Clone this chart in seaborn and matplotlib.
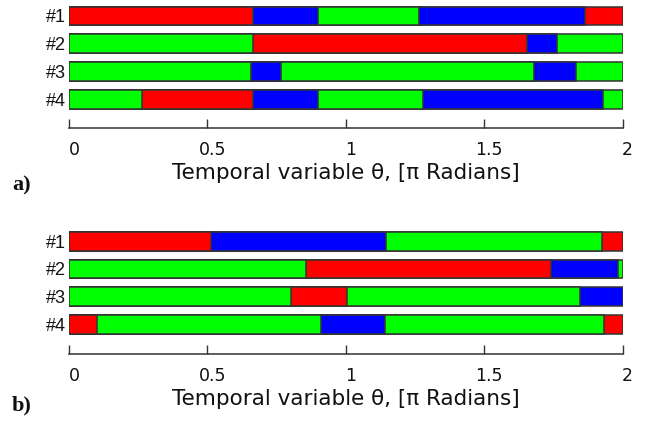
import matplotlib
matplotlib.use("Agg")
import matplotlib.pyplot as plt
from matplotlib.transforms import ScaledTranslation
import seaborn as sns
import pandas as pd

rows = ["#1", "#2", "#3", "#4"]
tick_values = [0, 0.5, 1, 1.5, 2]
tick_labels = ["0", "0.5", "1", "1.5", "2"]
xlabel = "Temporal variable \u03b8, [\u03c0 Radians]"

# panel a) segment end points (in pi radians) and colours, per row
a_ends = [
    [0.665, 0.898, 1.264, 1.865, 2.0],
    [0.665, 1.655, 1.765, 2.0],
    [0.659, 0.765, 1.680, 1.833, 2.0],
    [0.265, 0.665, 0.898, 1.280, 1.931, 2.0],
]
a_colors = [
    ["R", "B", "G", "B", "R"],
    ["G", "R", "B", "G"],
    ["G", "B", "G", "B", "G"],
    ["G", "R", "B", "G", "B", "G"],
]

# panel b)
b_ends = [
    [0.513, 1.147, 1.925, 2.0],
    [0.858, 1.741, 1.983, 2.0],
    [0.801, 1.005, 1.848, 2.0],
    [0.101, 0.909, 1.143, 1.932, 2.0],
]
b_colors = [
    ["R", "B", "G", "R"],
    ["G", "R", "B", "G"],
    ["G", "R", "G", "B"],
    ["R", "G", "B", "G", "R"],
]

color_map = {"R": "#ff0000", "G": "#00ff00", "B": "#0000ff"}

sns.set_theme(style="white")
plt.rcParams["font.family"] = ["Liberation Sans", "DejaVu Sans"]

W, H, DPI = 646, 421, 100
fig = plt.figure(figsize=(W / DPI, H / DPI), dpi=DPI)

x0, x1 = 69, 622.5


def make_ax(top_px, bot_px):
    return fig.add_axes([x0 / W, 1 - bot_px / H, (x1 - x0) / W, (bot_px - top_px) / H])


def build_df(ends, colors):
    recs = []
    for r, (e_list, c_list) in zip(rows, zip(ends, colors)):
        for k, (e, c) in enumerate(zip(e_list, c_list)):
            recs.append({"row": r, "end": e, "seg": f"{r}_{k}", "col": color_map[c]})
    df = pd.DataFrame(recs)
    # draw longer segments first so shorter ones lie on top
    df = df.sort_values("end", ascending=False).reset_index(drop=True)
    return df


def draw_panel(ax, ends, colors, offset_px, letter, letter_y):
    df = build_df(ends, colors)
    palette = dict(zip(df["seg"], df["col"]))
    sns.barplot(data=df, x="end", y="row", hue="seg", hue_order=list(df["seg"]),
                palette=palette, order=rows, dodge=False, orient="h",
                width=0.68, edgecolor="#333333", linewidth=1.1,
                saturation=1, legend=False, ax=ax)
    ax.set_xlim(0, 2)
    ax.set_ylim(3.5, -0.5)
    for s in ["top", "left", "right"]:
        ax.spines[s].set_visible(False)
    ax.spines["bottom"].set_position(("outward", offset_px * 72 / DPI))
    ax.spines["bottom"].set_color("#333333")
    ax.spines["bottom"].set_linewidth(1.1)
    ax.spines["bottom"].set_bounds(0, 2)
    ax.set_xticks(tick_values)
    ax.set_xticklabels(tick_labels, family=["DejaVu Sans"])
    ax.tick_params(axis="x", direction="in", length=6.5, width=1.0, color="#333333",
                   pad=9.5, labelsize=12.5, labelcolor="#111111", bottom=True)
    ax.tick_params(axis="y", length=0, pad=2, labelsize=13, labelcolor="#111111")
    for lab in ax.get_xticklabels():
        lab.set_transform(lab.get_transform() + ScaledTranslation(5 / DPI, 0, fig.dpi_scale_trans))
    ax.set_xlabel(xlabel, fontsize=15.5, color="#111111", labelpad=2.2,
                  family=["DejaVu Sans"])
    ax.set_ylabel("")
    fig.text(12 / W, 1 - letter_y / H, letter, fontsize=16, fontweight="bold",
             family="Liberation Serif", va="center", ha="left", color="#111111")


ax_a = make_ax(2.1, 113.2)
draw_panel(ax_a, a_ends, a_colors, 15.1, "a)", 185)

ax_b = make_ax(227.3, 338.4)
draw_panel(ax_b, b_ends, b_colors, 15.9, "b)", 405)

fig.savefig("out.png", dpi=DPI)
